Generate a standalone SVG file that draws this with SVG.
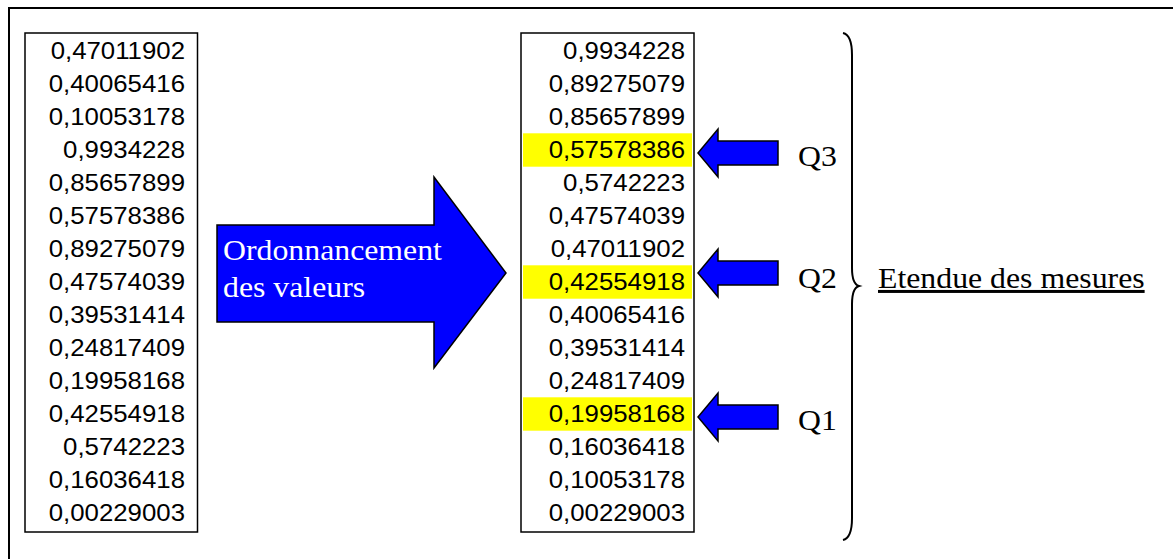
<svg xmlns="http://www.w3.org/2000/svg" width="1173" height="559" viewBox="0 0 1173 559">
<style>
.num{font-family:"Liberation Sans",Arial,sans-serif;font-size:24px;fill:#000;text-anchor:end}
.tnr{font-family:"Liberation Serif","Times New Roman",serif;font-size:30px;fill:#000}
.wht{fill:#fff}
.box{fill:#fff;stroke:#000;stroke-width:1.5}
.hl{fill:#ffff00}
.blue{fill:#0000ff;stroke:#000;stroke-width:1.5;stroke-linejoin:miter}
</style>
<defs>
<path id="qarrow" d="M0,0 L20,-24 L20,-12 L80,-12 L80,12 L20,12 L20,24 Z"/>
</defs>
<rect width="1173" height="559" fill="#fff"/>
<rect x="9" y="8" width="1200" height="600" fill="none" stroke="#000" stroke-width="2"/>

<g id="table-raw">
<rect class="box" x="25" y="33" width="172.5" height="499"/>
<g transform="translate(185 0) scale(1.075 1)">
<text class="num" x="0" y="59">0,47011902</text>
<text class="num" x="0" y="92">0,40065416</text>
<text class="num" x="0" y="125">0,10053178</text>
<text class="num" x="0" y="158">0,9934228</text>
<text class="num" x="0" y="191">0,85657899</text>
<text class="num" x="0" y="224">0,57578386</text>
<text class="num" x="0" y="257">0,89275079</text>
<text class="num" x="0" y="290">0,47574039</text>
<text class="num" x="0" y="323">0,39531414</text>
<text class="num" x="0" y="356">0,24817409</text>
<text class="num" x="0" y="389">0,19958168</text>
<text class="num" x="0" y="422">0,42554918</text>
<text class="num" x="0" y="455">0,5742223</text>
<text class="num" x="0" y="488">0,16036418</text>
<text class="num" x="0" y="521">0,00229003</text>
</g>
</g>

<g id="table-sorted">
<rect class="box" x="521" y="33" width="173" height="499"/>
<rect class="hl" x="523" y="133.3" width="169" height="33.4"/>
<rect class="hl" x="523" y="265.3" width="169" height="33.4"/>
<rect class="hl" x="523" y="397.3" width="169" height="33.4"/>
<g transform="translate(685 0) scale(1.075 1)">
<text class="num" x="0" y="59">0,9934228</text>
<text class="num" x="0" y="92">0,89275079</text>
<text class="num" x="0" y="125">0,85657899</text>
<text class="num" x="0" y="158">0,57578386</text>
<text class="num" x="0" y="191">0,5742223</text>
<text class="num" x="0" y="224">0,47574039</text>
<text class="num" x="0" y="257">0,47011902</text>
<text class="num" x="0" y="290">0,42554918</text>
<text class="num" x="0" y="323">0,40065416</text>
<text class="num" x="0" y="356">0,39531414</text>
<text class="num" x="0" y="389">0,24817409</text>
<text class="num" x="0" y="422">0,19958168</text>
<text class="num" x="0" y="455">0,16036418</text>
<text class="num" x="0" y="488">0,10053178</text>
<text class="num" x="0" y="521">0,00229003</text>
</g>
</g>

<g id="connectors">
<g id="sort-arrow">
<polygon class="blue" points="217,225 434,225 434,177 506,273 434,368 434,322 217,322"/>
<g transform="translate(223 0) scale(1.06 1)">
<text class="tnr wht" x="0" y="260">Ordonnancement</text>
<text class="tnr wht" x="0" y="297">des valeurs</text>
</g>
</g>
<use href="#qarrow" class="blue" transform="translate(698 153)"/>
<use href="#qarrow" class="blue" transform="translate(698 273)"/>
<use href="#qarrow" class="blue" transform="translate(698 417)"/>
</g>

<g id="label-q3" transform="translate(798 0) scale(1.06 1)"><text class="tnr" x="0" y="166">Q3</text></g>
<g id="label-q2" transform="translate(798 0) scale(1.06 1)"><text class="tnr" x="0" y="288">Q2</text></g>
<g id="label-q1" transform="translate(798 0) scale(1.06 1)"><text class="tnr" x="0" y="430">Q1</text></g>

<g id="brace">
<path d="M843,33 Q852,35 852,55 L852,268 Q852,284 859,286 Q852,288 852,304 L852,518 Q852,538 843,540" fill="none" stroke="#000" stroke-width="2"/>
</g>

<g id="label-etendue" transform="translate(878 0) scale(1.06 1)">
<text class="tnr" x="0" y="288" text-decoration="underline">Etendue des mesures</text>
</g>
</svg>
